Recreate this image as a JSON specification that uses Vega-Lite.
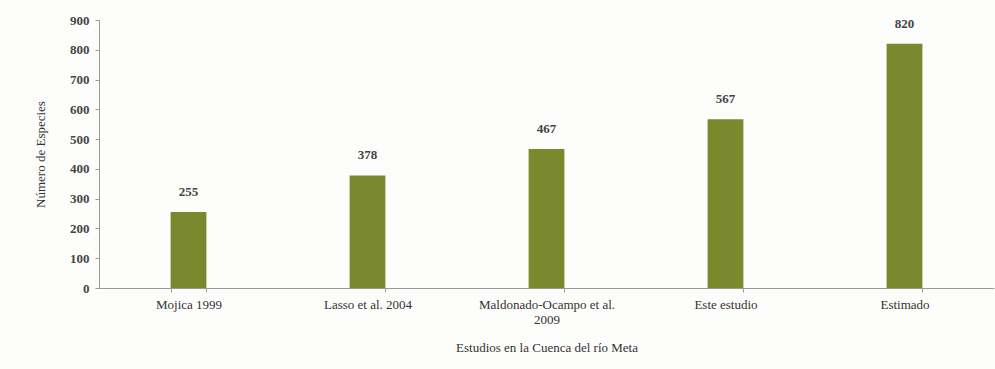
{
  "$schema": "https://vega.github.io/schema/vega-lite/v6.json",
  "width": 895,
  "height": 268,
  "autosize": {"type": "none"},
  "padding": {"left": 99, "top": 20, "right": 1, "bottom": 81},
  "background": "#fdfdfc",
  "config": {"view": {"stroke": null}, "font": "Liberation Serif, serif"},
  "data": {"values": [
    {"estudio": "Mojica 1999", "especies": 255},
    {"estudio": "Lasso et al. 2004", "especies": 378},
    {"estudio": "Maldonado-Ocampo et al.|2009", "especies": 467},
    {"estudio": "Este estudio", "especies": 567},
    {"estudio": "Estimado", "especies": 820}
  ]},
  "encoding": {
    "x": {"field": "estudio", "type": "nominal", "sort": null,
      "scale": {"paddingInner": 0.8, "paddingOuter": 0.4},
      "axis": {"title": "Estudios en la Cuenca del  río Meta", "labelAngle": 0,
        "labelExpr": "split(datum.label, '|')",
        "labelFont": "Liberation Serif, serif", "labelFontSize": 13, "labelColor": "#333",
        "labelPadding": 6, "labelLineHeight": 15,
        "titleFont": "Liberation Serif, serif", "titleFontSize": 13, "titleFontWeight": "normal", "titleColor": "#333", "titlePadding": 15,
        "domainColor": "#999", "tickColor": "#999", "tickBand": "extent", "tickSize": 4}},
    "y": {"field": "especies", "type": "quantitative",
      "scale": {"domain": [0, 900]},
      "axis": {"title": "Número de Especies", "values": [0,100,200,300,400,500,600,700,800,900],
        "grid": false, "labelFont": "Liberation Serif, serif", "labelFontSize": 13, "labelFontWeight": "bold", "labelColor": "#444",
        "titleFont": "Liberation Serif, serif", "titleFontSize": 13, "titleFontWeight": "normal", "titleColor": "#333", "titlePadding": 22,
        "domainColor": "#999", "tickColor": "#999", "tickSize": 4, "labelPadding": 6}}
  },
  "layer": [
    {"mark": {"type": "bar", "color": "#7b892e"}},
    {"mark": {"type": "text", "dy": -20, "fontSize": 13, "fontWeight": "bold", "color": "#444", "font": "Liberation Serif, serif"},
     "encoding": {"text": {"field": "especies", "type": "quantitative"}}}
  ]
}
